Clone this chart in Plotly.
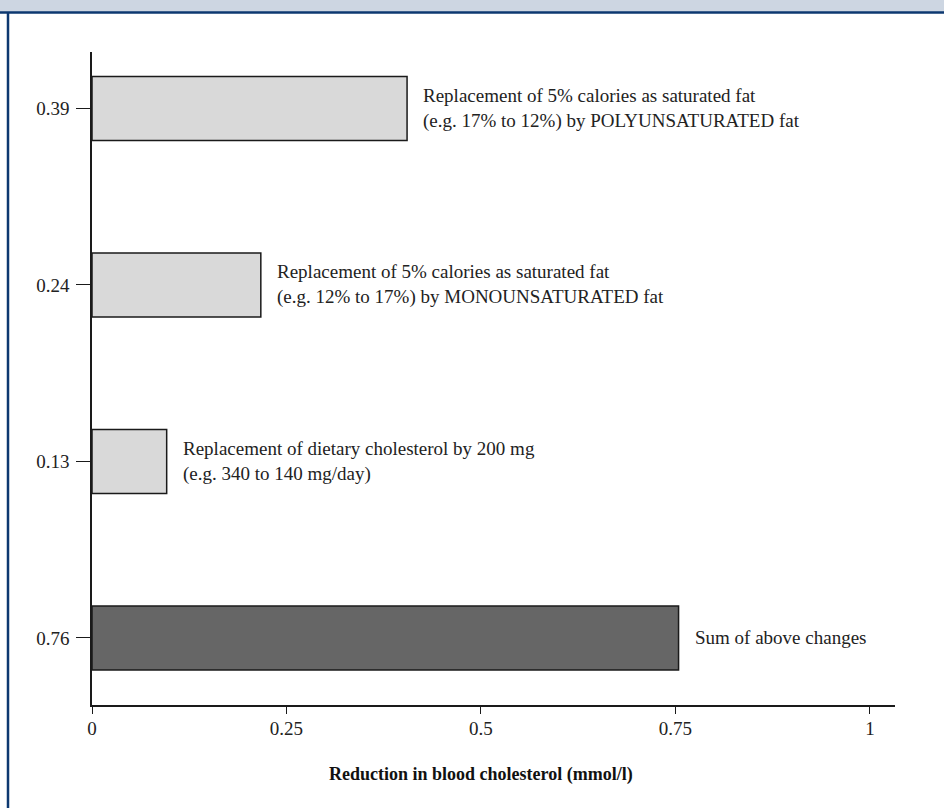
import plotly.graph_objects as go

# ---- data ----
categories = ["0.76", "0.13", "0.24", "0.39"]          # y tick labels, bottom to top
values = [0.754, 0.096, 0.217, 0.405]                   # drawn bar lengths (mmol/l)
bar_colors = ["#666666", "#d9d9d9", "#d9d9d9", "#d9d9d9"]
labels = [
    "Sum of above changes",
    "Replacement of dietary cholesterol by 200 mg<br>(e.g. 340 to 140 mg/day)",
    "Replacement of 5% calories as saturated fat<br>(e.g. 12% to 17%) by MONOUNSATURATED fat",
    "Replacement of 5% calories as saturated fat<br>(e.g. 17% to 12%) by POLYUNSATURATED fat",
]
x_ticks = [0, 0.25, 0.5, 0.75, 1]
x_ticktext = ["0", "0.25", "0.5", "0.75", "1"]
x_title = "Reduction in blood cholesterol (mmol/l)"

W, H = 944, 808
ML, MR, MT, MB = 92, 49, 52, 103
PW, PH = W - ML - MR, H - MT - MB

def px(x):
    return (x - ML) / PW

def py(y):
    return (H - MB - y) / PH

FONT = "Liberation Serif, Times New Roman, serif"

fig = go.Figure()
fig.add_trace(go.Bar(
    x=values, y=categories, orientation="h",
    marker=dict(color=bar_colors, line=dict(color="#1a1a1a", width=1.5)),
    width=0.363, hoverinfo="skip",
))

for i, (v, t) in enumerate(zip(values, labels)):
    fig.add_annotation(x=v, y=i, xref="x", yref="y", text=t, showarrow=False,
                       xanchor="left", yanchor="middle", xshift=14, align="left",
                       font=dict(family=FONT, size=19, color="#222222"))

fig.add_annotation(x=0.5, xref="x", y=py(774), yref="paper", text="<b>" + x_title + "</b>",
                   showarrow=False, xanchor="center", yanchor="middle",
                   font=dict(family=FONT, size=18, color="#111111"))

# frame decoration
fig.add_shape(type="rect", xref="paper", yref="paper", x0=px(0), x1=px(W), y0=py(12), y1=py(0),
              fillcolor="#cdd6e2", line=dict(width=0), layer="above")
fig.add_shape(type="line", xref="paper", yref="paper", x0=px(0), x1=px(W), y0=py(12.5), y1=py(12.5),
              line=dict(color="#0d3870", width=2.5), layer="above")
fig.add_shape(type="line", xref="paper", yref="paper", x0=px(8), x1=px(8), y0=py(12), y1=py(H),
              line=dict(color="#0d3870", width=2.5), layer="above")

fig.update_layout(
    width=W, height=H, margin=dict(l=ML, r=MR, t=MT, b=MB),
    paper_bgcolor="white", plot_bgcolor="white", showlegend=False,
    font=dict(family=FONT, size=16, color="#222222"),
    xaxis=dict(range=[0, 1.0322], tickvals=x_ticks, ticktext=x_ticktext,
               showline=True, linecolor="#1a1a1a", linewidth=1.5,
               ticks="outside", ticklen=7, tickwidth=1.2, tickcolor="#1a1a1a",
               showgrid=False, zeroline=False, ticklabelstandoff=-2,
               tickfont=dict(family=FONT, size=19)),
    yaxis=dict(type="category", categoryorder="array", categoryarray=categories,
               range=[-0.38, 3.32],
               showline=True, linecolor="#1a1a1a", linewidth=1.5,
               ticks="outside", ticklen=14, tickwidth=1.2, tickcolor="#1a1a1a",
               showgrid=False, zeroline=False, ticklabelstandoff=3,
               tickfont=dict(family=FONT, size=19)),
)

fig.write_html("out.html", config={"displayModeBar": False},
               post_script="document.body.style.margin='0';")
